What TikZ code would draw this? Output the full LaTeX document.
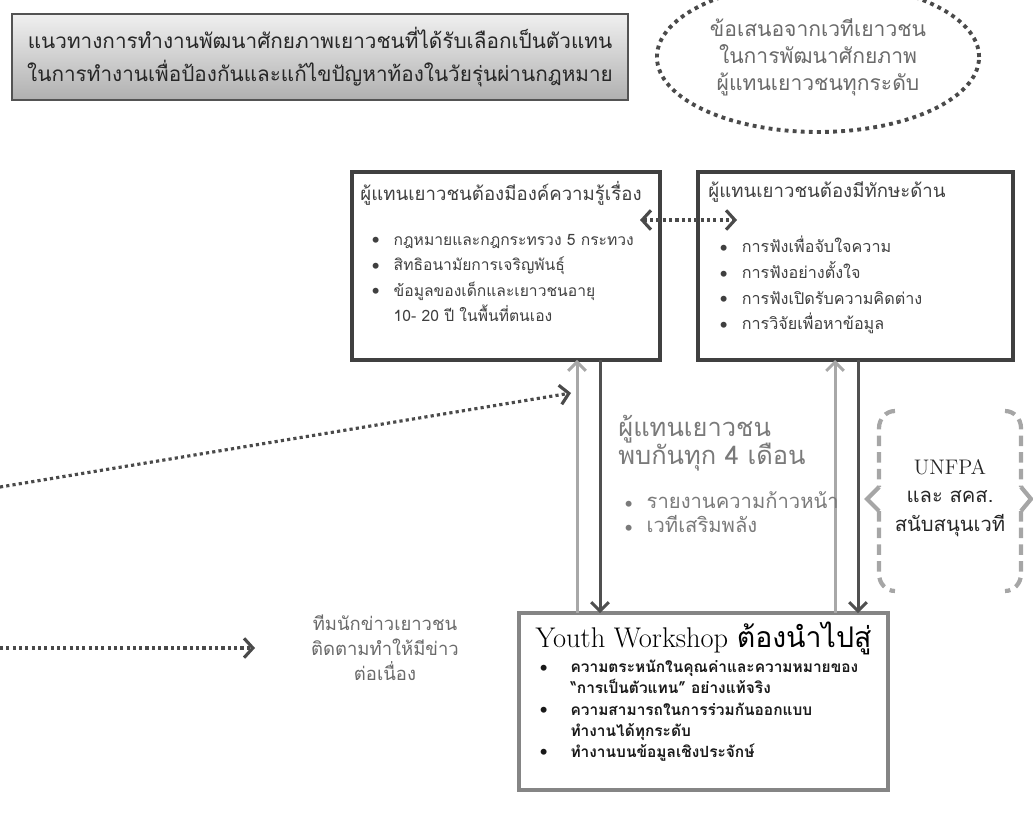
\documentclass[tikz,border=0pt]{standalone}
\usepackage{fontspec}
\newfontfamily\thaifont[Script=Thai]{Loma}
\usetikzlibrary{positioning}
\usetikzlibrary{arrows.meta}
\usetikzlibrary{shapes.geometric}

\definecolor{boxline}{HTML}{404040}
\definecolor{wsline}{HTML}{858585}
\definecolor{uparrow}{HTML}{A8A8A8}
\definecolor{downarrow}{HTML}{505050}
\definecolor{dotline}{HTML}{4A4A4A}
\definecolor{softtext}{HTML}{6A6A6A}
\definecolor{midtext}{HTML}{7A7A7A}
\definecolor{bracegray}{HTML}{A6A6A6}

\newcommand\bul[1][15pt]{\makebox[#1][l]{\normalfont\fontsize{12.5}{10}\selectfont\raisebox{-0.3pt}{\textbullet}}}

\tikzset{
  infobox/.style={draw=boxline, line width=2.3pt, fill=white, outer sep=0pt},
  boxhead/.style={anchor=north west, inner sep=0pt, text=boxline,
    font=\thaifont\fontsize{10.6}{14}\selectfont},
  boxtext/.style={anchor=north west, align=left, inner sep=0pt, text=boxline,
    font=\thaifont\fontsize{8.9}{14.4}\selectfont},
  dotarrow/.style={draw=dotline, line width=1.8pt, dash pattern=on 1.8pt off 1.8pt,
    -{Straight Barb[length=5pt,width=11pt,line width=1.8pt]}},
  uplink/.style={draw=uparrow, line width=1.7pt,
    -{Straight Barb[length=5pt,width=10pt]}},
  downlink/.style={draw=downarrow, line width=1.7pt,
    -{Straight Barb[length=5pt,width=10pt]}},
  bracepart/.style={draw=bracegray, line width=2.4pt, dash pattern=on 6pt off 3.5pt},
}

\begin{document}
\begin{tikzpicture}[x=0.02cm, y=-0.02cm]
\useasboundingbox (0,0) rectangle (1033,818);

% heading
\node[draw=boxline!90, line width=1pt, top color=gray!12, bottom color=gray!62,
      minimum width=12.32cm, minimum height=1.72cm, align=center, text=black!85,
      font=\thaifont\fontsize{11.8}{18.7}\selectfont] (heading) at (320,57)
  {แนวทางการทำงานพัฒนาศักยภาพเยาวชนที่ได้รับเลือกเป็นตัวแทน\\
   ในการทำงานเพื่อป้องกันและแก้ไขปัญหาท้องในวัยรุ่นผ่านกฎหมาย};

% proposal from youth forum
\node[ellipse, draw=dotline, line width=2.2pt, dash pattern=on 2.2pt off 2.4pt,
      minimum width=5.86cm, minimum height=3cm, align=center, text=softtext,
      font=\thaifont\fontsize{12}{15.3}\selectfont] (forum) at (818,57)
  {ข้อเสนอจากเวทีเยาวชน\\ ในการพัฒนาศักยภาพ\\ ผู้แทนเยาวชนทุกระดับ};

% two boxes at the top
\node[infobox, minimum width=6.16cm, minimum height=3.76cm] (know) at (506,266) {};
\node[infobox, minimum width=6.3cm, minimum height=3.76cm] (skill) at (855.5,266) {};

\node[boxhead] (know-h) at ([shift={(8,9)}]know.north west)
  {ผู้แทนเยาวชนต้องมีองค์ความรู้เรื่อง};
\node[boxtext] (know-t) at ([shift={(15,62)}]know.north west)
  {\bul[15pt]กฎหมายและกฎกระทรวง 5 กระทวง\\
   \bul[15pt]สิทธิอนามัยการเจริญพันธุ์\\
   \bul[15pt]ข้อมูลของเด็กและเยาวชนอายุ\\
   \hspace*{15pt}10- 20 ปี ในพื้นที่ตนเอง};

\node[boxhead] (skill-h) at ([shift={(10,9)}]skill.north west)
  {ผู้แทนเยาวชนต้องมีทักษะด้าน};
\node[boxtext, font=\thaifont\fontsize{9.2}{14.6}\selectfont] (skill-t)
  at ([shift={(17,64)}]skill.north west)
  {\bul[15pt]การฟังเพื่อจับใจความ\\
   \bul[15pt]การฟังอย่างตั้งใจ\\
   \bul[15pt]การฟังเปิดรับความคิดต่าง\\
   \bul[15pt]การวิจัยเพื่อหาข้อมูล};

% workshop box
\node[draw=wsline, line width=2.3pt, fill=white, outer sep=0pt,
      minimum width=7.38cm, minimum height=3.54cm] (workshop) at (703.5,701.5) {};
\node[anchor=north, inner sep=0pt, font=\fontsize{16.2}{20}\selectfont] (ws-head)
  at ([shift={(0,9)}]workshop.north) {Youth Workshop {\thaifont ต้องนำไปสู่}};
\node[anchor=north west, align=left, inner sep=0pt, text=black!90,
      font=\thaifont\bfseries\fontsize{8.8}{12}\selectfont] (ws-t)
  at ([shift={(16,47)}]workshop.north west)
  {\bul[20pt]ความตระหนักในคุณค่าและความหมายของ\\
   \hspace*{20pt}“การเป็นตัวแทน” อย่างแท้จริง\\
   \bul[20pt]ความสามารถในการร่วมกันออกแบบ\\
   \hspace*{20pt}ทำงานได้ทุกระดับ\\
   \bul[20pt]ทำงานบนข้อมูลเชิงประจักษ์};

% links between boxes
\coordinate (kup) at (577,0);
\coordinate (kdown) at (600,0);
\coordinate (sup) at (835,0);
\coordinate (sdown) at (858,0);
\draw[uplink] (workshop.north -| kup) -- (know.south -| kup);
\draw[downlink] (know.south -| kdown) -- (workshop.north -| kdown);
\draw[uplink] (workshop.north -| sup) -- (skill.south -| sup);
\draw[downlink] (skill.south -| sdown) -- (workshop.north -| sdown);

\coordinate (pairL) at (640,220);
\coordinate (pairR) at (737,220);
\draw[dotarrow, {Straight Barb[length=5pt,width=11pt,line width=1.8pt]}-{Straight Barb[length=5pt,width=11pt,line width=1.8pt]}]
  (pairL) -- (pairR);

% meeting every four months
\node[anchor=north west, align=left, inner sep=0pt, text=midtext,
      font=\thaifont\fontsize{14.5}{16}\selectfont] (meet) at (618,415)
  {ผู้แทนเยาวชน\\ พบกันทุก 4 เดือน};
\node[anchor=north west, align=left, inner sep=0pt, text=midtext,
      font=\thaifont\fontsize{11.5}{13.6}\selectfont] (meet-list)
  at ([shift={(2,20)}]meet.south west)
  {\bul[15pt]รายงานความก้าวหน้า\\
   \bul[15pt]เวทีเสริมพลัง};

% support bracket
\draw[bracepart] (895,411) to[out=180,in=90] (879,428) -- (879,487);
\draw[bracegray, line width=2.4pt] (879,487) -- (867,499) -- (879,511);
\draw[bracepart] (879,511) -- (879,574) to[out=-90,in=180] (895,591);
\draw[bracepart] (1005,411) to[out=0,in=90] (1021,428) -- (1021,487);
\draw[bracegray, line width=2.4pt] (1021,487) -- (1031,499) -- (1021,511);
\draw[bracepart] (1021,511) -- (1021,574) to[out=-90,in=0] (1005,591);
\node[align=center, inner sep=0pt, text=black!85,
      font=\thaifont\fontsize{11.5}{16}\selectfont] (support) at (950,498)
  {{\normalfont\fontsize{12}{16}\selectfont UNFPA}\\ และ สคส.\\ สนับสนุนเวที};

% news team
\node[align=center, inner sep=0pt, text=softtext,
      font=\thaifont\fontsize{10.5}{14.2}\selectfont] (news) at (385,648)
  {ทีมนักข่าวเยาวชน\\ ติดตามทำให้มีข่าว\\ ต่อเนื่อง};

\coordinate (feedL) at (0,487);
\coordinate (feedR) at (571,393);
\draw[dotarrow] (feedL) -- (feedR);
\coordinate (newsL) at (0,648);
\coordinate (newsR) at (255,648);
\draw[dotarrow] (newsL) -- (newsR);
\end{tikzpicture}
\end{document}
